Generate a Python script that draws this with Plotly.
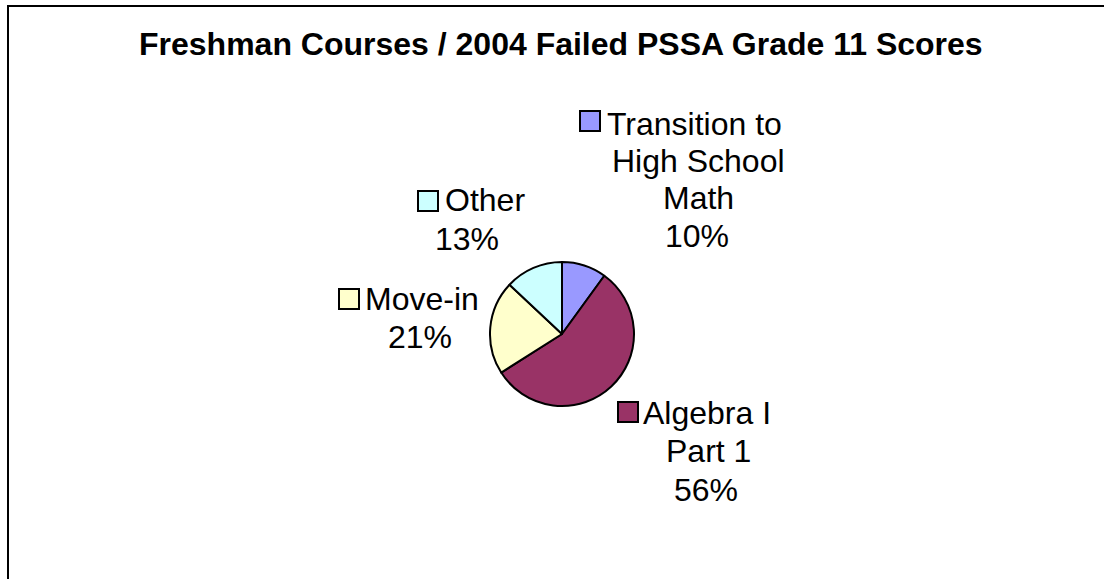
import plotly.graph_objects as go

W, H = 1104, 579

categories = ["Transition to High School Math", "Algebra I Part 1", "Move-in", "Other"]
values = [10, 56, 21, 13]
colors = ["#9999FF", "#993366", "#FFFFCC", "#CCFFFF"]
label_lines = [["Transition to", "High School", "Math"], ["Algebra I", "Part 1"], ["Move-in"], ["Other"]]

title_text = "Freshman Courses / 2004 Failed PSSA Grade 11 Scores"


def px(x):
    return x / W


def py(y):
    return 1 - y / H


# pie placement (pixels)
cx, cy, r = 562, 334, 72

fig = go.Figure()
fig.add_trace(go.Pie(
    labels=categories,
    values=values,
    sort=False,
    direction="clockwise",
    rotation=0,
    textinfo="none",
    hoverinfo="label+percent",
    marker=dict(colors=colors, line=dict(color="black", width=2)),
    domain=dict(x=[px(cx - r), px(cx + r)], y=[py(cy + r), py(cy - r)]),
    showlegend=False,
))

# label layout: per category, first-line square position and line centres
label_layout = [
    dict(sq=(590, 121), lines=[(694, 124), (698, 161), (698, 198)], pct=(697, 236)),
    dict(sq=(628, 412), lines=[(707, 413), (708, 451)], pct=(706, 490)),
    dict(sq=(349, 299), lines=[(422, 299)], pct=(420, 337)),
    dict(sq=(428, 201), lines=[(485, 200)], pct=(467, 239)),
]

font = dict(family="Liberation Sans, Arial, sans-serif", size=32, color="black")
annotations = []
shapes = []
for cat_lines, val, col, lay in zip(label_lines, values, colors, label_layout):
    for txt, (x, y) in zip(cat_lines, lay["lines"]):
        annotations.append(dict(text=txt, x=px(x), y=py(y), xref="paper", yref="paper",
                                xanchor="center", yanchor="middle", showarrow=False, font=font))
    x, y = lay["pct"]
    annotations.append(dict(text=f"{val}%", x=px(x), y=py(y), xref="paper", yref="paper",
                            xanchor="center", yanchor="middle", showarrow=False, font=font))
    sx, sy = lay["sq"]
    s = 10
    shapes.append(dict(type="rect", xref="paper", yref="paper",
                       x0=px(sx - s), x1=px(sx + s), y0=py(sy + s), y1=py(sy - s),
                       fillcolor=col, line=dict(color="black", width=2)))

annotations.append(dict(text=f"<b>{title_text}</b>", x=px(561), y=py(44), xref="paper", yref="paper",
                        xanchor="center", yanchor="middle", showarrow=False,
                        font=dict(family="Liberation Sans, Arial, sans-serif", size=32, color="black")))

# chart border (cropped at right and bottom)
shapes.append(dict(type="rect", xref="paper", yref="paper",
                   x0=px(8), x1=1.2, y0=-0.2, y1=py(6),
                   line=dict(color="black", width=2), fillcolor="rgba(0,0,0,0)"))

fig.update_layout(
    width=W, height=H,
    margin=dict(l=0, r=0, t=0, b=0),
    paper_bgcolor="white",
    plot_bgcolor="white",
    annotations=annotations,
    shapes=shapes,
)

fig.write_html("out.html",
               config={"displayModeBar": False},
               post_script="document.body.style.margin='0';document.body.style.overflow='hidden';")
